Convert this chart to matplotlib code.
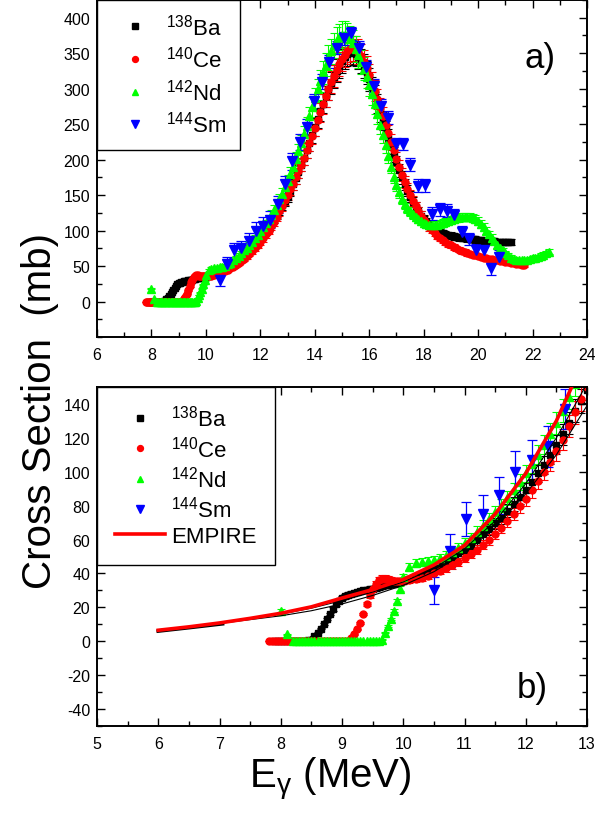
import numpy as np
import matplotlib
matplotlib.use("Agg")
import matplotlib.pyplot as plt
from matplotlib.lines import Line2D
from matplotlib.ticker import MultipleLocator

plt.rcParams['font.family'] = ['Liberation Sans', 'DejaVu Sans']
plt.rcParams['mathtext.default'] = 'regular'
plt.rcParams['axes.unicode_minus'] = False

# ---------------- data ----------------
# Below 10 MeV the data are read every 0.05 MeV, from 10 MeV on every 0.1 MeV.
# (first energy, cross sections in mb)
ba_low_E0 = 7.9
ba_low = [0, 0, 0, 0, 0, 0, 0, 0, 0, 0, 0, 0.5, 1, 3, 5, 7.5, 10, 13, 16, 19, 22, 24,
          25.5, 26.5, 27.5, 28, 28.5, 29, 29.5, 30, 30.5, 31, 31, 31.5, 32, 32.5, 33, 33,
          33.5, 34, 34.5, 35]
ba_high = [35.5, 36.5, 38, 39.5, 41, 43, 45, 47, 49.5, 52, 54.5, 57, 60, 63, 66,
           69.5, 73, 77, 81, 85, 89, 94, 99, 104, 110, 116, 122, 129, 136, 142, 148,
           156, 165, 174, 183, 193, 203, 213, 224, 235, 246, 257, 268, 279, 289, 299,
           308, 317, 325, 332, 339, 345, 349, 352, 351, 349, 345, 339, 332, 323, 313,
           302, 291, 279, 267, 255, 243, 231, 219, 207, 196, 185, 175, 165, 156, 148,
           140, 133, 127, 121, 116, 112, 108, 105, 102, 100, 98, 96.5, 95, 94, 93, 92,
           91, 90.5, 90, 89.5, 89, 88.5, 88, 87.5, 87, 86.5, 86, 86, 85.5, 85, 85, 84.5,
           84.5, 84, 84, 84, 84]

ce_low_E0 = 7.8
ce_low = [0, 0, 0, 0, 0, 0, 0, 0, 0, 0, 0, 0, 0, 0, 0, 0, 0, 0, 0, 0, 0, 0, 0, 0, 0, 0,
          0, 2, 4, 7, 11, 16, 22, 27, 31, 34, 36, 37, 37, 36.5, 36, 35.5, 35.5, 35.5]
ce_high = [35.5, 36, 36.5, 37.5, 38.5, 40, 41.5, 43, 45, 47, 49, 51.5, 54, 57, 60, 63.5,
           67, 71, 75, 79.5, 84, 89, 94.5, 100, 106, 112, 119, 127, 135, 143, 150, 158,
           166, 175, 184, 193, 203, 213, 223, 234, 245, 256, 267, 278, 289, 299, 309,
           318, 327, 335, 342, 348, 353, 356, 357, 356, 352, 346, 338, 329, 319, 308,
           297, 285, 273, 261, 249, 237, 225, 213, 201, 190, 179, 169, 159, 150, 142,
           134, 127, 121, 115, 110, 105, 101, 97, 93, 90, 87, 84, 81, 79, 77, 75, 73,
           71, 70, 68, 67, 66, 65, 64, 63, 62, 61, 60, 59.5, 59, 58, 57.5, 57, 56, 55.5,
           55, 54, 53, 52.5, 52, 51]

nd_low_E0 = 8.0
nd_low = [18, np.nan, 4, np.nan, 0, 0, 0, 0, 0, 0, 0, 0, 0, 0, 0, 0, 0, 0, 0, 0, 0, 0,
          0, 0, 0, 0, 0, 0, 0, 0, 0, 0, 0, 1, 5, 9, 13, 18, 24, 31]
nd_high = [38, 44, 46, 47, 47.5, 48, 49, 50.5, 52.5, 55, 58, 61, 64.5, 68, 72, 76, 80,
           84.5, 89, 94, 99, 104.5, 110, 116, 122.5, 129, 136, 144, 152, 161, 170, 180,
           190, 201, 212, 224, 236, 248, 261, 274, 287, 299, 311, 323, 334, 344, 353,
           361, 368, 373, 376, 376, 374, 370, 364, 356, 347, 338, 328, 317, 305, 292,
           278, 264, 249, 235, 220, 205, 190, 176, 164, 154, 145, 138, 132, 127, 123,
           119, 116, 113, 111, 109, 108, 107.5, 107.5, 108, 109, 110.5, 112, 113.5, 115,
           116.5, 117.5, 118.5, 119, 119.5, 119.5, 119, 118, 116, 113, 109, 105, 100,
           95, 90, 85, 80, 76, 72, 68, 65, 62, 60, 59, 58, 58, 58.5, 59, 60, 61, 62, 63,
           64.5, 66, 68, 70]

high_E0 = 10.0
rel_err = {'Ba': 0.05, 'Ce': 0.05, 'Nd': 0.05}

sm_E = [10.50, 10.76, 11.03, 11.30, 11.57, 11.83, 12.10, 12.37, 12.64, 12.90, 13.16,
        13.44, 13.71, 13.98, 14.25, 14.53, 14.80, 15.07, 15.34, 15.62, 15.89, 16.16,
        16.43, 16.70, 16.97, 17.24, 17.51, 17.78, 18.05, 18.32, 18.59, 18.86, 19.13,
        19.40, 19.67, 19.94, 20.21, 20.48, 20.75]
sm_sigma = [30, 53, 72, 75, 86, 100, 107, 115, 137, 165, 198, 225, 246, 282, 310, 338,
            358, 371, 378, 358, 331, 304, 276, 259, 222, 222, 193, 163, 164, 124, 130,
            128, 122, 98, 88, 72, 72, 47, 63]
sm_err = [8, 10, 10, 11, 11, 12, 12, 12, 12, 12, 12, 11, 11, 10, 10, 9, 9, 9, 9, 9, 9,
          9, 9, 9, 9, 9, 9, 9, 9, 9, 9, 9, 9, 9, 9, 9, 9, 9, 9]

# EMPIRE calculations (bottom panel)
emp_E = [6.0, 6.5, 7.0, 7.5, 8.0, 8.5, 9.0, 9.5, 10.0, 10.5, 11.0, 11.5, 12.0, 12.5, 12.75]
emp_red = [6.5, 8.5, 10.8, 13.5, 16.5, 20.3, 25.5, 30.5, 36.5, 45, 56.5, 75, 99, 130, 150]
emp_blk_E = [6.0, 6.5, 7.05]
emp_blk = [6.0, 8.0, 10.3]
thin_E = [6.0, 7.0, 8.0, 8.5, 9.0, 9.5, 10.0, 10.5, 11.0, 11.5, 12.0, 12.5, 13.0]
thin_low = [6.5, 10.5, 15, 18, 22, 27, 33, 41, 52, 67, 87, 110, 139]
thin_mid = [6.5, 10.7, 16, 19.5, 24, 29, 35, 43, 54.5, 71, 93, 120, 152]

series = [
    ('Ba', r'$^{138}$Ba', ba_low_E0, ba_low, ba_high, 's', 'black', 4.3),
    ('Ce', r'$^{140}$Ce', ce_low_E0, ce_low, ce_high, 'o', 'red', 5.0),
    ('Nd', r'$^{142}$Nd', nd_low_E0, nd_low, nd_high, '^', '#00ff00', 5.5),
]

fig = plt.figure(figsize=(5.95, 8.2), dpi=100)
ax1 = fig.add_axes([97/595, 1-338/820, 490/595, 337/820])
ax2 = fig.add_axes([97/595, 1-727/820, 490/595, 339/820])


def draw_data(ax):
    for key, lab, e0, low, high, mk, col, ms in series:
        low = np.asarray(low, float)
        high = np.asarray(high, float)
        E = np.concatenate([np.round(e0 + 0.05*np.arange(len(low)), 3),
                            np.round(high_E0 + 0.1*np.arange(len(high)), 3)])
        sig = np.concatenate([low, high])
        ax.errorbar(E, sig, yerr=rel_err[key]*sig, fmt=mk, color=col, mfc=col, mec=col,
                    ms=ms, ecolor=col, elinewidth=0.8, capsize=3, capthick=0.8)
    ax.errorbar(sm_E, sm_sigma, yerr=sm_err, fmt='v', color='blue', mfc='blue', mec='blue',
                ms=6.5, ecolor='blue', elinewidth=0.9, capsize=3.5, capthick=0.9)


def style(ax):
    for s in ax.spines.values():
        s.set_linewidth(1.4)
    ax.tick_params(which='both', direction='in', top=True, right=True, labeltop=False,
                   labelright=False, labelsize=11.5, width=1.0)
    ax.tick_params(which='major', length=6)
    ax.tick_params(which='minor', length=3.5)
    ax.tick_params(axis='x', pad=7)
    ax.tick_params(axis='y', pad=5)


draw_data(ax1)
ax1.set_xlim(6, 24)
ax1.set_ylim(-50, 425)
ax1.set_xticks(np.arange(6, 25, 2))
ax1.xaxis.set_minor_locator(MultipleLocator(1))
ax1.set_yticks(np.arange(0, 401, 50))
ax1.yaxis.set_minor_locator(MultipleLocator(25))
style(ax1)
ax1.text(0.904, 0.83, 'a)', transform=ax1.transAxes, fontsize=25, ha='center', va='center')

draw_data(ax2)
ax2.plot(thin_E, thin_low, color='black', lw=0.8, zorder=3)
ax2.plot(thin_E, thin_mid, color='black', lw=0.8, zorder=3)
ax2.plot(emp_blk_E, emp_blk, color='black', lw=2.6, zorder=3.5)
ax2.plot(emp_E, emp_red, color='red', lw=2.6, zorder=4)
ax2.set_xlim(5, 13)
ax2.set_ylim(-50, 150)
ax2.set_xticks(np.arange(5, 14, 1))
ax2.xaxis.set_minor_locator(MultipleLocator(0.5))
ax2.set_yticks(np.arange(-40, 141, 20))
ax2.yaxis.set_minor_locator(MultipleLocator(10))
style(ax2)
ax2.text(0.888, 0.115, 'b)', transform=ax2.transAxes, fontsize=25, ha='center', va='center')

# legends
def handles(with_empire):
    h = [Line2D([], [], ls='none', marker=mk, color=col, ms=ms*0.85, label=lab)
         for key, lab, e0, low, high, mk, col, ms in series]
    h.append(Line2D([], [], ls='none', marker='v', color='blue', ms=5.5, label=r'$^{144}$Sm'))
    if with_empire:
        h.append(Line2D([], [], color='red', lw=2.6, label='EMPIRE'))
    return h

leg1 = ax1.legend(handles=handles(False), loc='upper left', bbox_to_anchor=(0, 1),
                  borderaxespad=0, fancybox=False, edgecolor='black', framealpha=1,
                  fontsize=16, handlelength=2.2, handletextpad=0.3, borderpad=0.6,
                  labelspacing=0.3)
leg1.get_frame().set_linewidth(1.0)
leg1.set_zorder(10)

leg2 = ax2.legend(handles=handles(True), loc='upper left', bbox_to_anchor=(0, 1),
                  borderaxespad=0, fancybox=False, edgecolor='black', framealpha=1,
                  fontsize=16, handlelength=2.25, handletextpad=0.3, borderpad=0.8,
                  labelspacing=0.2)
leg2.get_frame().set_linewidth(1.0)
leg2.set_zorder(10)

fig.text(40/595, 1-411/820, 'Cross Section  (mb)', rotation=90, ha='center',
         va='center', fontsize=29)
fig.text(330/595, 1-780/820, r'E$_\gamma$ (MeV)', ha='center', va='center', fontsize=29)

fig.savefig('out.png', dpi=100)
